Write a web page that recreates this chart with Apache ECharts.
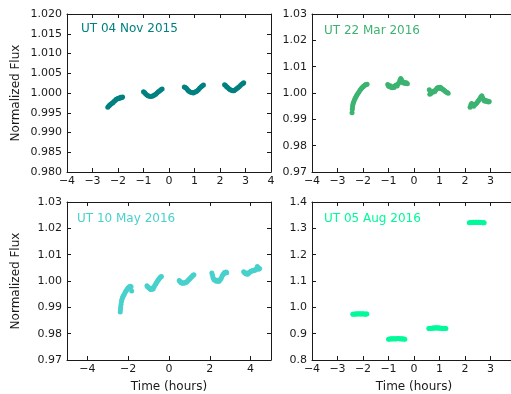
<!DOCTYPE html>
<html>
<head>
<meta charset="utf-8">
<script src="https://cdn.jsdelivr.net/npm/echarts@6/dist/echarts.min.js"></script>
<style>
  html, body { margin: 0; padding: 0; background: #fff; }
  #chart { width: 511px; height: 394px; }
</style>
</head>
<body>
<div id="chart"></div>
<script>
// light curves, [time (hours), normalized flux]
const nov2015 = [
  [-2.40,0.9964],[-2.36,0.9967],[-2.33,0.9969],[-2.30,0.9971],[-2.26,0.9973],[-2.22,0.9975],[-2.19,0.9976],[-2.15,0.9979],
  [-2.11,0.9981],[-2.07,0.9984],[-2.03,0.9985],[-1.99,0.9987],[-1.95,0.9986],[-1.90,0.9989],[-1.86,0.9988],[-1.82,0.9990],
  [-1.00,1.0003],[-0.96,1.0001],[-0.92,0.9998],[-0.87,0.9995],[-0.82,0.9993],[-0.77,0.9992],[-0.72,0.9991],[-0.67,0.9992],
  [-0.62,0.9993],[-0.57,0.9995],[-0.52,0.9997],[-0.47,1.0000],[-0.42,1.0003],[-0.37,1.0005],[-0.32,1.0008],[-0.27,1.0010],
  [0.60,1.0015],[0.64,1.0014],[0.68,1.0012],[0.72,1.0009],[0.76,1.0006],[0.80,1.0004],[0.85,1.0002],[0.90,1.0001],[0.95,1.0000],
  [1.00,1.0002],[1.05,1.0003],[1.10,1.0005],[1.15,1.0008],[1.20,1.0012],[1.25,1.0015],[1.30,1.0018],[1.35,1.0020],
  [2.18,1.0021],[2.22,1.0019],[2.26,1.0016],[2.30,1.0014],[2.35,1.0011],[2.40,1.0008],[2.45,1.0007],[2.50,1.0006],[2.55,1.0006],
  [2.60,1.0008],[2.65,1.0011],[2.70,1.0013],[2.75,1.0016],[2.80,1.0019],[2.85,1.0022],[2.90,1.0024],[2.93,1.0026]
];
const mar2016 = [
  [-2.43,0.9925],[-2.42,0.9938],[-2.41,0.9948],[-2.40,0.9955],[-2.38,0.9962],[-2.36,0.9968],[-2.33,0.9975],[-2.30,0.9981],
  [-2.27,0.9987],[-2.24,0.9992],[-2.20,0.9998],[-2.16,1.0004],[-2.12,1.0010],[-2.08,1.0015],[-2.04,1.0020],[-2.00,1.0024],
  [-1.96,1.0027],[-1.92,1.0030],[-1.88,1.0032],[-1.84,1.0033],
  [-1.03,1.0032],[-1.00,1.0027],[-0.97,1.0025],[-0.93,1.0028],[-0.90,1.0022],[-0.86,1.0020],[-0.82,1.0024],[-0.78,1.0021],
  [-0.74,1.0028],[-0.70,1.0030],[-0.66,1.0027],[-0.62,1.0035],[-0.58,1.0040],[-0.55,1.0048],[-0.52,1.0055],[-0.49,1.0050],
  [-0.46,1.0042],[-0.42,1.0038],[-0.38,1.0041],[-0.34,1.0036],[-0.30,1.0039],[-0.26,1.0035],
  [0.60,1.0012],[0.62,0.9995],[0.66,0.9998],[0.70,1.0005],[0.74,1.0003],[0.78,1.0008],[0.82,1.0006],[0.86,1.0012],
  [0.90,1.0018],[0.94,1.0021],[0.98,1.0017],[1.02,1.0022],[1.06,1.0020],[1.10,1.0015],[1.14,1.0013],[1.18,1.0010],
  [1.22,1.0007],[1.26,1.0004],[1.30,1.0002],[1.34,0.9999],
  [2.20,0.9946],[2.23,0.9955],[2.26,0.9960],[2.30,0.9953],[2.34,0.9950],[2.38,0.9955],[2.42,0.9958],[2.46,0.9962],
  [2.50,0.9968],[2.54,0.9972],[2.58,0.9978],[2.62,0.9985],[2.66,0.9990],[2.69,0.9982],[2.72,0.9975],[2.76,0.9970],
  [2.80,0.9972],[2.84,0.9968],[2.88,0.9970],[2.92,0.9966],[2.95,0.9968]
];
const may2016 = [
  [-2.39,0.9882],[-2.38,0.9892],[-2.37,0.9901],[-2.35,0.9912],[-2.33,0.9922],[-2.31,0.9930],[-2.28,0.9936],[-2.25,0.9942],
  [-2.22,0.9946],[-2.18,0.9952],[-2.14,0.9958],[-2.10,0.9963],[-2.06,0.9968],[-2.02,0.9972],[-1.98,0.9975],[-1.94,0.9978],
  [-1.90,0.9980],[-1.86,0.9978],[-1.83,0.9962],
  [-1.08,0.9982],[-1.05,0.9978],[-1.01,0.9975],[-0.97,0.9973],[-0.93,0.9970],[-0.89,0.9968],[-0.85,0.9972],[-0.81,0.9969],
  [-0.77,0.9971],[-0.73,0.9978],[-0.69,0.9984],[-0.65,0.9989],[-0.61,0.9994],[-0.57,0.9999],[-0.53,1.0004],[-0.49,1.0008],
  [-0.45,1.0012],[-0.41,1.0015],[-0.37,1.0017],
  [0.50,1.0002],[0.54,0.9998],[0.58,0.9994],[0.62,0.9992],[0.66,0.9991],[0.70,0.9992],[0.74,0.9993],[0.78,0.9992],
  [0.82,0.9994],[0.86,0.9996],[0.90,0.9999],[0.94,1.0003],[0.98,1.0006],[1.02,1.0009],[1.06,1.0012],[1.10,1.0015],
  [1.14,1.0018],[1.18,1.0022],[1.22,1.0024],
  [2.10,1.0030],[2.13,1.0022],[2.16,1.0012],[2.20,1.0006],[2.24,1.0003],[2.28,1.0004],[2.32,0.9999],[2.36,1.0001],
  [2.40,1.0003],[2.44,0.9998],[2.48,1.0002],[2.52,1.0006],[2.56,1.0010],[2.60,1.0018],[2.64,1.0024],[2.68,1.0028],
  [2.72,1.0032],[2.76,1.0030],[2.80,1.0034],[2.83,1.0031],
  [3.66,1.0035],[3.70,1.0031],[3.74,1.0029],[3.78,1.0027],[3.82,1.0030],[3.86,1.0026],[3.90,1.0029],[3.94,1.0032],
  [3.98,1.0035],[4.02,1.0037],[4.06,1.0038],[4.10,1.0040],[4.14,1.0039],[4.18,1.0042],[4.22,1.0041],[4.26,1.0044],
  [4.30,1.0047],[4.33,1.0055],[4.36,1.0050],[4.40,1.0045],[4.44,1.0047]
];
const aug2016 = [
  [-2.40,0.974],[-2.36,0.975],[-2.32,0.974],[-2.28,0.975],[-2.24,0.976],[-2.20,0.975],[-2.16,0.975],[-2.12,0.976],
  [-2.08,0.975],[-2.04,0.975],[-2.00,0.976],[-1.96,0.975],[-1.92,0.974],[-1.88,0.975],[-1.85,0.975],
  [-1.00,0.879],[-0.96,0.880],[-0.92,0.880],[-0.88,0.881],[-0.84,0.880],[-0.80,0.881],[-0.76,0.881],[-0.72,0.880],
  [-0.68,0.881],[-0.64,0.882],[-0.60,0.881],[-0.56,0.881],[-0.52,0.880],[-0.48,0.881],[-0.44,0.880],[-0.40,0.880],[-0.36,0.879],
  [0.58,0.920],[0.62,0.920],[0.66,0.921],[0.70,0.921],[0.74,0.921],[0.78,0.922],[0.82,0.921],[0.86,0.922],[0.90,0.922],
  [0.94,0.921],[0.98,0.922],[1.02,0.921],[1.06,0.921],[1.10,0.921],[1.14,0.920],[1.18,0.921],[1.22,0.920],[1.25,0.920],
  [2.17,1.321],[2.21,1.322],[2.25,1.322],[2.29,1.322],[2.33,1.323],[2.37,1.322],[2.41,1.323],[2.45,1.323],[2.49,1.322],
  [2.53,1.323],[2.57,1.322],[2.61,1.322],[2.65,1.322],[2.69,1.321],[2.73,1.321],[2.75,1.321]
];

const titles = ['UT 04 Nov 2015', 'UT 22 Mar 2016', 'UT 10 May 2016', 'UT 05 Aug 2016'];
const seriesData = [nov2015, mar2016, may2016, aug2016];
const yRanges = [[0.98, 1.02, 0.005], [0.97, 1.03, 0.01], [0.97, 1.03, 0.01], [0.8, 1.4, 0.1]];
const yDecimals = [3, 2, 2, 1];
const xRanges = [[-4, 4], [-4, 4], [-5, 5], [-4, 4]];
const xTicksMay = [-4, -2, 0, 2, 4];

const colors = ['#008080', '#3cb371', '#48d1cc', '#00fa9a'];
const grids = [
  { left: 67, top: 14, width: 204, height: 158 },
  { left: 312, top: 14, width: 204, height: 158 },
  { left: 67, top: 202, width: 204, height: 158 },
  { left: 312, top: 202, width: 204, height: 158 }
].map(g => Object.assign(g, { outerBoundsMode: 'none', containLabel: false }));
const titlePos = [[81, 23], [324, 25], [77, 213], [324, 213]];

const font = 'DejaVu Sans';
const ink = '#1a1a1a';
const minus = v => (v < 0 ? '\u2212' + (-v) : String(v));

const xAxis = [];
const yAxis = [];
const series = [];

grids.forEach((g, i) => {
  const [xmin, xmax] = xRanges[i];
  const [ymin, ymax, yint] = yRanges[i];
  const custom = i === 2 ? xTicksMay : null;
  ['bottom', 'top'].forEach(pos => {
    const main = pos === 'bottom';
    const ax = {
      type: 'value', gridIndex: i, position: pos, min: xmin, max: xmax,
      splitLine: { show: false },
      axisLine: { show: true, onZero: false, lineStyle: { color: ink, width: 1 } },
      axisTick: { show: true, inside: true, length: 4, lineStyle: { color: ink } },
      axisLabel: {
        show: main, margin: 4, fontFamily: font, fontSize: 11, color: ink,
        formatter: minus, showMinLabel: true, showMaxLabel: true
      }
    };
    if (custom) {
      ax.axisTick.customValues = custom;
      ax.axisLabel.customValues = custom;
    } else {
      ax.interval = 1;
    }
    if (main && i >= 2) {
      ax.name = 'Time (hours)';
      ax.nameLocation = 'middle';
      ax.nameGap = 21;
      ax.nameTextStyle = { fontFamily: font, fontSize: 12, color: ink };
    }
    xAxis.push(ax);
  });
  ['left', 'right'].forEach(pos => {
    const main = pos === 'left';
    const ax = {
      type: 'value', gridIndex: i, position: pos, min: ymin, max: ymax, interval: yint,
      splitLine: { show: false },
      axisLine: { show: true, onZero: false, lineStyle: { color: ink, width: 1 } },
      axisTick: { show: true, inside: true, length: 4, lineStyle: { color: ink } },
      axisLabel: {
        show: main, margin: 5, fontFamily: font, fontSize: 11, color: ink,
        formatter: v => v.toFixed(yDecimals[i])
      }
    };
    if (main && i % 2 === 0) {
      ax.name = 'Normalized Flux';
      ax.nameLocation = 'middle';
      ax.nameGap = 45;
      ax.nameTextStyle = { fontFamily: font, fontSize: 12, color: ink };
    }
    yAxis.push(ax);
  });
  series.push({
    type: 'scatter',
    xAxisIndex: i * 2,
    yAxisIndex: i * 2,
    data: seriesData[i],
    symbolSize: 5,
    itemStyle: { color: colors[i], opacity: 1 },
    silent: true
  });
});

const chart = echarts.init(document.getElementById('chart'));
chart.setOption({
  backgroundColor: '#fff',
  animation: false,
  title: titles.map((t, i) => ({
    text: t, left: titlePos[i][0], top: titlePos[i][1], padding: 0,
    textStyle: { fontFamily: font, fontSize: 12, fontWeight: 'normal', color: colors[i] }
  })),
  grid: grids,
  xAxis: xAxis,
  yAxis: yAxis,
  series: series
});
</script>
</body>
</html>
